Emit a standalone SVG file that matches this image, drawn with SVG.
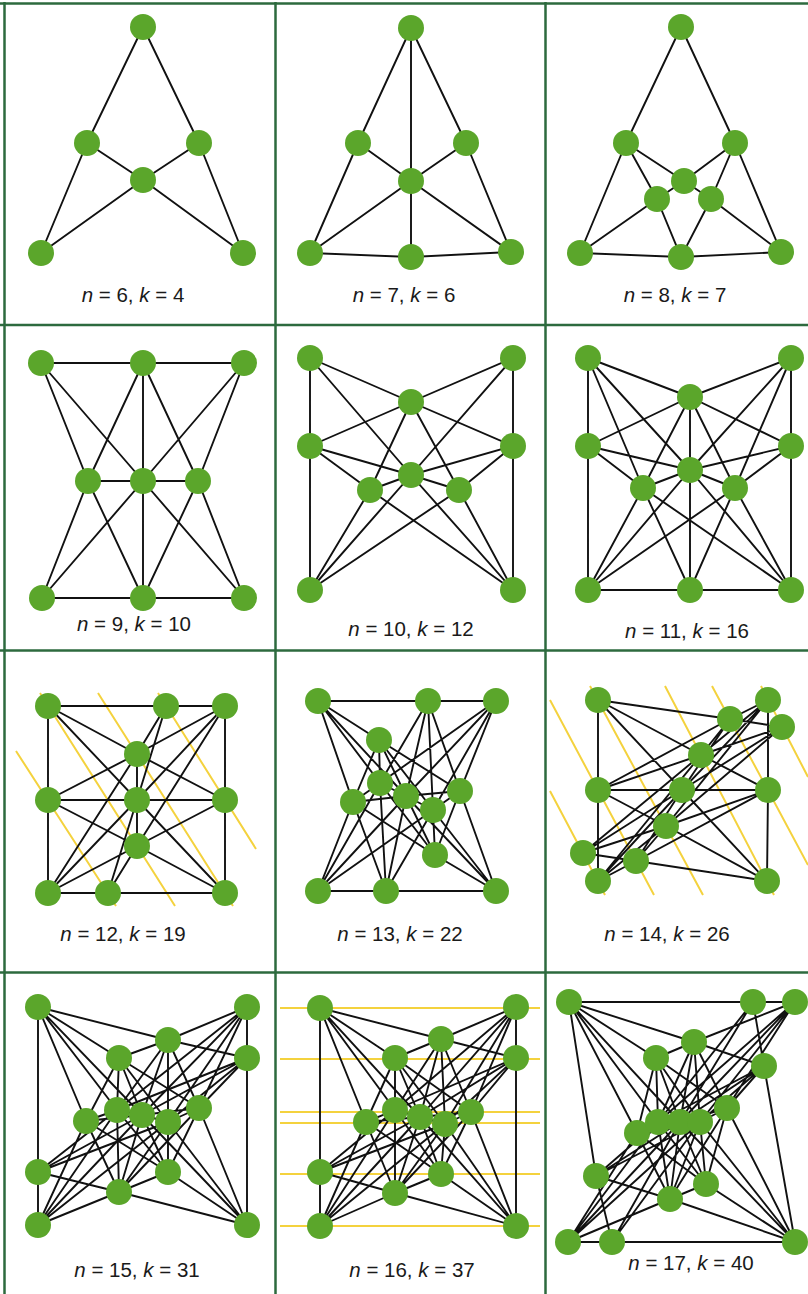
<svg xmlns="http://www.w3.org/2000/svg" width="808" height="1294" viewBox="0 0 808 1294">
<style>
.grid line{stroke:#2d6a3e;stroke-width:2.5}
.e path{stroke:#111111;stroke-width:1.9;fill:none;stroke-linejoin:round}
.y path{stroke:#f4d23e;stroke-width:2;fill:none}
circle{fill:#5ba62b}
text{font-family:"Liberation Sans",Arial,sans-serif;font-size:20.5px;fill:#1a1a1a;text-anchor:middle}
.i{font-style:italic}
</style>
<rect width="808" height="1294" fill="#ffffff"/>
<g class="grid">
<line x1="0" y1="3.5" x2="808" y2="3.5"/>
<line x1="0" y1="325" x2="808" y2="325"/>
<line x1="0" y1="650.5" x2="808" y2="650.5"/>
<line x1="0" y1="972.5" x2="808" y2="972.5"/>
<line x1="4.5" y1="2" x2="4.5" y2="1294"/>
<line x1="275.5" y1="2" x2="275.5" y2="1294"/>
<line x1="545.5" y1="2" x2="545.5" y2="1294"/>
</g>
<g id="connectors">
<g class="y">
<path d="M16,751 L116,906 M40,693 L175,906 M98,693 L233,906 M158,693 L256,849"/>
<path d="M550,700 L654,895 M590,686 L703,895 M665,686 L774,895 M712,686 L808,865 M761,686 L808,777 M550,791 L605,895"/>
<path d="M280,1008 L540,1008 M280,1059 L540,1059 M280,1112 L540,1112 M280,1123 L540,1123 M280,1174 L540,1174 M280,1226 L540,1226"/>
</g>
<g class="e">
<path d="M143,27 L87,143 L41,253 M143,27 L199,143 L243,253 M87,143 L143,180 L199,143 M41,253 L143,180 L243,253"/>
<path d="M411,28 L358,143 L310,253 M411,28 L466,143 L511,252 M411,28 L411,257 M358,143 L411,181 L511,252 M466,143 L411,181 L310,253 M310,253 L411,257 L511,252"/>
<path d="M681,27 L626,143 L580,253 M681,27 L735,143 L781,252 M580,253 L681,257 L781,252 M626,143 L684,181 L735,143 M626,143 L657,199 L681,257 M735,143 L711,199 L681,257 M580,253 L657,199 L684,181 M781,252 L711,199 L684,181"/>
<path d="M41,363 L244,363 M42,598 L244,598 M88,481 L198,481 M143,363 L143,598 M41,363 L88,481 L143,598 M41,363 L143,481 L244,598 M244,363 L198,481 L143,598 M244,363 L143,481 L42,598 M143,363 L88,481 L42,598 M143,363 L198,481 L244,598"/>
<path d="M310,358 L310,590 M513,358 L513,590 M310,358 L411,402 L513,446 M513,358 L411,402 L310,446 M310,358 L411,475 L513,590 M513,358 L411,475 L310,590 M310,446 L370,490 L513,590 M513,446 L459,490 L310,590 M310,446 L411,475 L459,490 M513,446 L411,475 L370,490 M411,402 L370,490 L310,590 M411,402 L459,490 L513,590"/>
<path d="M588,358 L588,590 M791,358 L791,590 M588,358 L690,397 L791,446 M791,358 L690,397 L588,446 M588,358 L690,470 L791,590 M791,358 L690,470 L588,590 M588,446 L643,488 L791,590 M791,446 L735,488 L588,590 M588,446 L690,470 L735,488 M791,446 L690,470 L643,488 M690,397 L643,488 L588,590 M690,397 L735,488 L791,590 M588,590 L791,590 M690,397 L690,590 M588,358 L643,488 L690,590 M791,358 L735,488 L690,590"/>
<path d="M48,706 L225,706 M48,893 L225,893 M48,706 L48,893 M225,706 L225,893 M48,800 L225,800 M137,754 L137,846 M48,706 L137,754 L225,800 M48,706 L137,800 L225,893 M48,800 L137,754 L225,706 M48,800 L137,846 L225,893 M48,893 L137,846 L225,800 M48,893 L137,800 L225,706 M225,706 L137,846 L108,893 M166,706 L137,800 L108,893 M166,706 L137,754 L48,893"/>
<path d="M318,701 L496,701 M318,891 L496,891 M318,701 L379,740 L460,791 M318,701 L406,796 L496,891 M318,701 L380,783 L435,855 M318,701 L353,802 L386,891 M496,701 L380,783 L353,802 M496,701 L406,796 L318,891 M496,701 L433,810 L386,891 M428,701 L380,783 L318,891 M428,701 L406,796 L386,891 M428,701 L433,810 L435,855 M428,701 L460,791 L496,891 M379,740 L380,783 L386,891 M379,740 L406,796 L435,855 M379,740 L433,810 L496,891 M353,802 L406,796 L460,791 M353,802 L435,855 L496,891 M318,891 L433,810 L460,791 M318,891 L353,802 L379,740 M496,701 L460,791 L435,855 M380,783 L406,796 L433,810"/>
<path d="M598,700 L730,719 L782,727 M598,700 L598,881 M768,700 L768,790 L767,881 M598,790 L768,790 M583,853 L636,861 L767,881 M598,700 L701,755 L768,790 M598,700 L682,790 L767,881 M768,700 L682,790 L598,881 M768,700 L701,755 L583,853 M768,700 L666,826 L636,861 M730,719 L682,790 L636,861 M730,719 L701,755 L598,881 M782,727 L701,755 L598,790 M782,727 L682,790 L583,853 M782,727 L666,826 L598,881 M768,790 L666,826 L583,853 M767,881 L666,826 L598,790 M598,881 L636,861 L768,790 M598,790 L730,719 L768,700"/>
<path d="M38,1007 L38,1225 M247,1007 L247,1225 M38,1007 L168,1040 L247,1058 M119,1058 L168,1040 L247,1007 M119,1058 L117,1110 L119,1192 M168,1040 L168,1122 L168,1172 M38,1007 L119,1058 L199,1108 M38,1007 L142,1115 L247,1225 M38,1007 L117,1110 L168,1172 M38,1007 L86,1121 L119,1192 M247,1007 L199,1108 L168,1172 M247,1007 L168,1122 L119,1192 M247,1007 L142,1115 L38,1225 M247,1007 L117,1110 L38,1172 M247,1058 L117,1110 L86,1121 M247,1058 L142,1115 L38,1172 M247,1058 L199,1108 L119,1192 M38,1225 L86,1121 L119,1058 M38,1225 L117,1110 L168,1040 M38,1225 L168,1122 L247,1058 M38,1225 L119,1192 L168,1172 M38,1172 L168,1122 L199,1108 M38,1172 L119,1192 L247,1225 M247,1225 L168,1172 L86,1121 M247,1225 L168,1122 L119,1058 M247,1225 L199,1108 L168,1040 M117,1110 L142,1115 L168,1122 M119,1192 L142,1115 L168,1040 M168,1172 L142,1115 L119,1058 M86,1121 L142,1115 L199,1108"/>
<path d="M320,1008 L320,1226 M516,1007 L516,1226 M320,1008 L441,1039 L516,1058 M395,1058 L441,1039 L516,1007 M395,1058 L395,1110 L395,1193 M441,1039 L445,1124 L441,1174 M320,1008 L395,1058 L471,1112 M320,1008 L420,1117 L516,1226 M320,1008 L395,1110 L441,1174 M320,1008 L366,1122 L395,1193 M516,1007 L471,1112 L441,1174 M516,1007 L445,1124 L395,1193 M516,1007 L420,1117 L320,1226 M516,1007 L395,1110 L320,1172 M516,1058 L395,1110 L366,1122 M516,1058 L420,1117 L320,1172 M516,1058 L471,1112 L395,1193 M320,1226 L366,1122 L395,1058 M320,1226 L395,1110 L441,1039 M320,1226 L445,1124 L516,1058 M320,1226 L395,1193 L441,1174 M320,1172 L445,1124 L471,1112 M320,1172 L395,1193 L516,1226 M516,1226 L441,1174 L366,1122 M516,1226 L445,1124 L395,1058 M516,1226 L471,1112 L441,1039 M395,1110 L420,1117 L445,1124 M395,1193 L420,1117 L441,1039 M441,1174 L420,1117 L395,1058 M366,1122 L420,1117 L471,1112"/>
<path d="M569,1002 L795,1002 M568,1242 L795,1242 M569,1002 L596,1176 L612,1242 M753,1002 L764,1066 L795,1242 M569,1002 L694,1042 L764,1066 M656,1058 L694,1042 L795,1002 M656,1058 L658,1122 L670,1199 M694,1042 L700,1122 L706,1184 M569,1002 L656,1058 L727,1108 M569,1002 L680,1122 L795,1242 M569,1002 L658,1122 L706,1184 M569,1002 L637,1133 L670,1199 M795,1002 L727,1108 L706,1184 M764,1066 L727,1108 L670,1199 M795,1002 L700,1122 L670,1199 M795,1002 L680,1122 L568,1242 M753,1002 L680,1122 L612,1242 M795,1002 L658,1122 L596,1176 M753,1002 L658,1122 L568,1242 M764,1066 L658,1122 L637,1133 M764,1066 L680,1122 L596,1176 M568,1242 L637,1133 L656,1058 M568,1242 L658,1122 L694,1042 M568,1242 L700,1122 L764,1066 M612,1242 L700,1122 L795,1002 M568,1242 L670,1199 L706,1184 M596,1176 L700,1122 L727,1108 M596,1176 L670,1199 L795,1242 M795,1242 L706,1184 L637,1133 M795,1242 L700,1122 L656,1058 M795,1242 L727,1108 L694,1042 M658,1122 L700,1122 M670,1199 L680,1122 L694,1042 M706,1184 L680,1122 L656,1058 M637,1133 L680,1122 L727,1108"/>
</g>
</g>
<g id="p1-a"><circle cx="143" cy="27" r="13"/></g>
<g id="p1-b"><circle cx="87" cy="143" r="13"/></g>
<g id="p1-c"><circle cx="199" cy="143" r="13"/></g>
<g id="p1-d"><circle cx="143" cy="180" r="13"/></g>
<g id="p1-e"><circle cx="41" cy="253" r="13"/></g>
<g id="p1-f"><circle cx="243" cy="253" r="13"/></g>
<g id="p2-a"><circle cx="411" cy="28" r="13"/></g>
<g id="p2-b"><circle cx="358" cy="143" r="13"/></g>
<g id="p2-c"><circle cx="466" cy="143" r="13"/></g>
<g id="p2-d"><circle cx="411" cy="181" r="13"/></g>
<g id="p2-e"><circle cx="310" cy="253" r="13"/></g>
<g id="p2-f"><circle cx="411" cy="257" r="13"/></g>
<g id="p2-g"><circle cx="511" cy="252" r="13"/></g>
<g id="p3-a"><circle cx="681" cy="27" r="13"/></g>
<g id="p3-b"><circle cx="626" cy="143" r="13"/></g>
<g id="p3-c"><circle cx="735" cy="143" r="13"/></g>
<g id="p3-d"><circle cx="684" cy="181" r="13"/></g>
<g id="p3-e"><circle cx="657" cy="199" r="13"/></g>
<g id="p3-f"><circle cx="711" cy="199" r="13"/></g>
<g id="p3-g"><circle cx="580" cy="253" r="13"/></g>
<g id="p3-h"><circle cx="681" cy="257" r="13"/></g>
<g id="p3-i"><circle cx="781" cy="252" r="13"/></g>
<g id="p4-a"><circle cx="41" cy="363" r="13"/></g>
<g id="p4-b"><circle cx="143" cy="363" r="13"/></g>
<g id="p4-c"><circle cx="244" cy="363" r="13"/></g>
<g id="p4-d"><circle cx="88" cy="481" r="13"/></g>
<g id="p4-e"><circle cx="143" cy="481" r="13"/></g>
<g id="p4-f"><circle cx="198" cy="481" r="13"/></g>
<g id="p4-g"><circle cx="42" cy="598" r="13"/></g>
<g id="p4-h"><circle cx="143" cy="598" r="13"/></g>
<g id="p4-i"><circle cx="244" cy="598" r="13"/></g>
<g id="p5-a"><circle cx="310" cy="358" r="13"/></g>
<g id="p5-b"><circle cx="513" cy="358" r="13"/></g>
<g id="p5-c"><circle cx="411" cy="402" r="13"/></g>
<g id="p5-d"><circle cx="310" cy="446" r="13"/></g>
<g id="p5-e"><circle cx="513" cy="446" r="13"/></g>
<g id="p5-f"><circle cx="411" cy="475" r="13"/></g>
<g id="p5-g"><circle cx="370" cy="490" r="13"/></g>
<g id="p5-h"><circle cx="459" cy="490" r="13"/></g>
<g id="p5-i"><circle cx="310" cy="590" r="13"/></g>
<g id="p5-j"><circle cx="513" cy="590" r="13"/></g>
<g id="p6-a"><circle cx="588" cy="358" r="13"/></g>
<g id="p6-b"><circle cx="791" cy="358" r="13"/></g>
<g id="p6-c"><circle cx="690" cy="397" r="13"/></g>
<g id="p6-d"><circle cx="588" cy="446" r="13"/></g>
<g id="p6-e"><circle cx="791" cy="446" r="13"/></g>
<g id="p6-f"><circle cx="690" cy="470" r="13"/></g>
<g id="p6-g"><circle cx="643" cy="488" r="13"/></g>
<g id="p6-h"><circle cx="735" cy="488" r="13"/></g>
<g id="p6-i"><circle cx="588" cy="590" r="13"/></g>
<g id="p6-j"><circle cx="690" cy="590" r="13"/></g>
<g id="p6-k"><circle cx="791" cy="590" r="13"/></g>
<g id="p7-a"><circle cx="48" cy="706" r="13"/></g>
<g id="p7-b"><circle cx="166" cy="706" r="13"/></g>
<g id="p7-c"><circle cx="225" cy="706" r="13"/></g>
<g id="p7-d"><circle cx="137" cy="754" r="13"/></g>
<g id="p7-e"><circle cx="48" cy="800" r="13"/></g>
<g id="p7-f"><circle cx="137" cy="800" r="13"/></g>
<g id="p7-g"><circle cx="225" cy="800" r="13"/></g>
<g id="p7-h"><circle cx="137" cy="846" r="13"/></g>
<g id="p7-i"><circle cx="48" cy="893" r="13"/></g>
<g id="p7-j"><circle cx="108" cy="893" r="13"/></g>
<g id="p7-k"><circle cx="225" cy="893" r="13"/></g>
<g id="p8-a"><circle cx="318" cy="701" r="13"/></g>
<g id="p8-b"><circle cx="428" cy="701" r="13"/></g>
<g id="p8-c"><circle cx="496" cy="701" r="13"/></g>
<g id="p8-d"><circle cx="379" cy="740" r="13"/></g>
<g id="p8-e"><circle cx="380" cy="783" r="13"/></g>
<g id="p8-f"><circle cx="353" cy="802" r="13"/></g>
<g id="p8-g"><circle cx="406" cy="796" r="13"/></g>
<g id="p8-h"><circle cx="460" cy="791" r="13"/></g>
<g id="p8-i"><circle cx="433" cy="810" r="13"/></g>
<g id="p8-j"><circle cx="435" cy="855" r="13"/></g>
<g id="p8-k"><circle cx="318" cy="891" r="13"/></g>
<g id="p8-l"><circle cx="386" cy="891" r="13"/></g>
<g id="p8-m"><circle cx="496" cy="891" r="13"/></g>
<g id="p9-a"><circle cx="598" cy="700" r="13"/></g>
<g id="p9-b"><circle cx="730" cy="719" r="13"/></g>
<g id="p9-c"><circle cx="768" cy="700" r="13"/></g>
<g id="p9-d"><circle cx="782" cy="727" r="13"/></g>
<g id="p9-e"><circle cx="701" cy="755" r="13"/></g>
<g id="p9-f"><circle cx="598" cy="790" r="13"/></g>
<g id="p9-g"><circle cx="682" cy="790" r="13"/></g>
<g id="p9-h"><circle cx="768" cy="790" r="13"/></g>
<g id="p9-i"><circle cx="666" cy="826" r="13"/></g>
<g id="p9-j"><circle cx="583" cy="853" r="13"/></g>
<g id="p9-k"><circle cx="636" cy="861" r="13"/></g>
<g id="p9-l"><circle cx="598" cy="881" r="13"/></g>
<g id="p9-m"><circle cx="767" cy="881" r="13"/></g>
<g id="p10-a"><circle cx="38" cy="1007" r="13"/></g>
<g id="p10-b"><circle cx="247" cy="1007" r="13"/></g>
<g id="p10-c"><circle cx="168" cy="1040" r="13"/></g>
<g id="p10-d"><circle cx="119" cy="1058" r="13"/></g>
<g id="p10-e"><circle cx="247" cy="1058" r="13"/></g>
<g id="p10-f"><circle cx="86" cy="1121" r="13"/></g>
<g id="p10-g"><circle cx="117" cy="1110" r="13"/></g>
<g id="p10-h"><circle cx="142" cy="1115" r="13"/></g>
<g id="p10-i"><circle cx="168" cy="1122" r="13"/></g>
<g id="p10-j"><circle cx="199" cy="1108" r="13"/></g>
<g id="p10-k"><circle cx="38" cy="1172" r="13"/></g>
<g id="p10-l"><circle cx="168" cy="1172" r="13"/></g>
<g id="p10-m"><circle cx="119" cy="1192" r="13"/></g>
<g id="p10-n"><circle cx="38" cy="1225" r="13"/></g>
<g id="p10-o"><circle cx="247" cy="1225" r="13"/></g>
<g id="p11-a"><circle cx="320" cy="1008" r="13"/></g>
<g id="p11-b"><circle cx="516" cy="1007" r="13"/></g>
<g id="p11-c"><circle cx="441" cy="1039" r="13"/></g>
<g id="p11-d"><circle cx="395" cy="1058" r="13"/></g>
<g id="p11-e"><circle cx="516" cy="1058" r="13"/></g>
<g id="p11-f"><circle cx="366" cy="1122" r="13"/></g>
<g id="p11-g"><circle cx="395" cy="1110" r="13"/></g>
<g id="p11-h"><circle cx="420" cy="1117" r="13"/></g>
<g id="p11-i"><circle cx="445" cy="1124" r="13"/></g>
<g id="p11-j"><circle cx="471" cy="1112" r="13"/></g>
<g id="p11-k"><circle cx="320" cy="1172" r="13"/></g>
<g id="p11-l"><circle cx="441" cy="1174" r="13"/></g>
<g id="p11-m"><circle cx="395" cy="1193" r="13"/></g>
<g id="p11-n"><circle cx="320" cy="1226" r="13"/></g>
<g id="p11-o"><circle cx="516" cy="1226" r="13"/></g>
<g id="p12-a"><circle cx="569" cy="1002" r="13"/></g>
<g id="p12-b"><circle cx="753" cy="1002" r="13"/></g>
<g id="p12-c"><circle cx="795" cy="1002" r="13"/></g>
<g id="p12-d"><circle cx="694" cy="1042" r="13"/></g>
<g id="p12-e"><circle cx="656" cy="1058" r="13"/></g>
<g id="p12-f"><circle cx="764" cy="1066" r="13"/></g>
<g id="p12-g"><circle cx="727" cy="1108" r="13"/></g>
<g id="p12-h"><circle cx="637" cy="1133" r="13"/></g>
<g id="p12-i"><circle cx="658" cy="1122" r="13"/></g>
<g id="p12-j"><circle cx="680" cy="1122" r="13"/></g>
<g id="p12-k"><circle cx="700" cy="1122" r="13"/></g>
<g id="p12-l"><circle cx="596" cy="1176" r="13"/></g>
<g id="p12-m"><circle cx="706" cy="1184" r="13"/></g>
<g id="p12-n"><circle cx="670" cy="1199" r="13"/></g>
<g id="p12-o"><circle cx="568" cy="1242" r="13"/></g>
<g id="p12-p"><circle cx="612" cy="1242" r="13"/></g>
<g id="p12-q"><circle cx="795" cy="1242" r="13"/></g>
<g id="labels">
<text x="133" y="302"><tspan class="i">n</tspan> = 6, <tspan class="i">k</tspan> = 4</text>
<text x="404" y="302"><tspan class="i">n</tspan> = 7, <tspan class="i">k</tspan> = 6</text>
<text x="675" y="302"><tspan class="i">n</tspan> = 8, <tspan class="i">k</tspan> = 7</text>
<text x="134" y="631"><tspan class="i">n</tspan> = 9, <tspan class="i">k</tspan> = 10</text>
<text x="411" y="636"><tspan class="i">n</tspan> = 10, <tspan class="i">k</tspan> = 12</text>
<text x="687" y="638"><tspan class="i">n</tspan> = 11, <tspan class="i">k</tspan> = 16</text>
<text x="123" y="941"><tspan class="i">n</tspan> = 12, <tspan class="i">k</tspan> = 19</text>
<text x="400" y="941"><tspan class="i">n</tspan> = 13, <tspan class="i">k</tspan> = 22</text>
<text x="667" y="941"><tspan class="i">n</tspan> = 14, <tspan class="i">k</tspan> = 26</text>
<text x="137" y="1277"><tspan class="i">n</tspan> = 15, <tspan class="i">k</tspan> = 31</text>
<text x="412" y="1277"><tspan class="i">n</tspan> = 16, <tspan class="i">k</tspan> = 37</text>
<text x="691" y="1270"><tspan class="i">n</tspan> = 17, <tspan class="i">k</tspan> = 40</text>
</g>
</svg>
